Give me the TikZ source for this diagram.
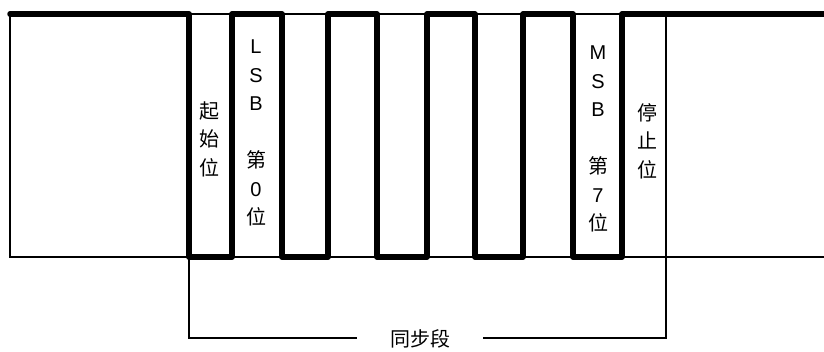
\documentclass[tikz,border=0pt]{standalone}
\usepackage{fontspec}
\setmainfont{Liberation Sans}
\newfontfamily\cjk{Noto Sans CJK SC}
\usetikzlibrary{positioning}

\begin{document}
\begin{tikzpicture}[
  x=1pt, y=-1pt,
  font=\fontsize{20}{28.5}\selectfont,
  signal/.style={line width=5.5pt, line join=round, line cap=round, black},
  frame/.style={line width=1.3pt, black},
  bitlabel/.style={align=center, inner sep=0pt, text=black}
]
\useasboundingbox (0,0) rectangle (824,352);

% ---------- frame ----------
\draw[frame] (824,14) -- (10,14) -- (10,257) -- (824,257);

% ---------- waveform ----------
\draw[signal] (10,14) -- (189,14) -- (189,257) -- (232,257) -- (232,14)
  -- (282,14) -- (282,257) -- (328,257) -- (328,14)
  -- (377,14) -- (377,257) -- (427,257) -- (427,14)
  -- (475,14) -- (475,257) -- (523,257) -- (523,14)
  -- (573,14) -- (573,257) -- (622,257) -- (622,14) -- (824,14);

% ---------- bit labels ----------
\node[bitlabel] (start) at (209,139) {\cjk 起\\\cjk 始\\\cjk 位};
\node[bitlabel] (lsb)   at (256,133) {L\\S\\B\\[28.5pt]\cjk 第\\0\\\cjk 位};
\node[bitlabel] (msb)   at (598,139) {M\\S\\B\\[28.5pt]\cjk 第\\7\\\cjk 位};
\node[bitlabel] (stop)  at (647,141) {\cjk 停\\\cjk 止\\\cjk 位};

% ---------- sync bracket ----------
\coordinate (bkL) at (189,257);
\coordinate (bkR) at (666,14);
\node[inner xsep=33pt, inner ysep=0pt] (sync) at (420,339) {\cjk 同步段};
\draw[frame] (bkL) |- ([yshift=1pt]sync.west);
\draw[frame] ([yshift=1pt]sync.east) -| (bkR);

\end{tikzpicture}
\end{document}
